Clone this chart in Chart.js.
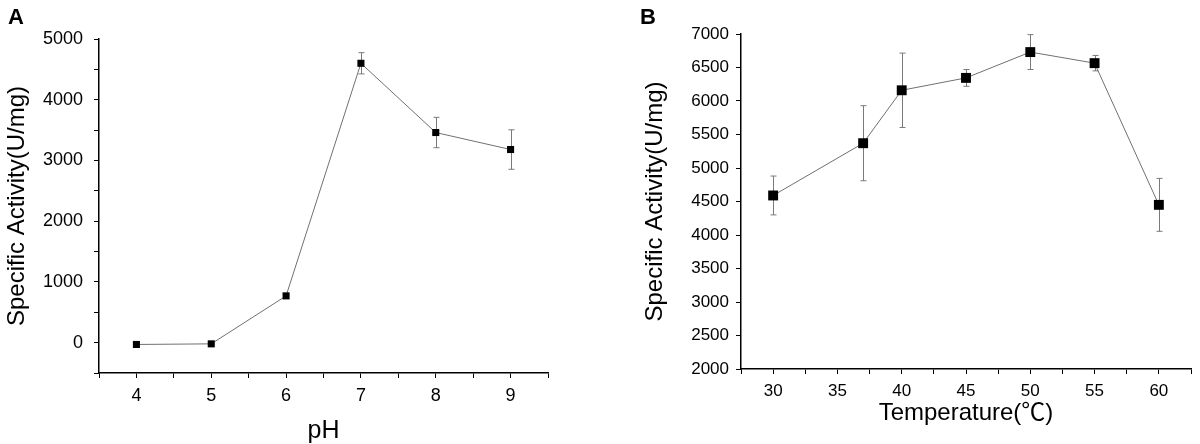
<!DOCTYPE html>
<html>
<head>
<meta charset="utf-8">
<script src="https://cdn.jsdelivr.net/npm/chart.js@4.4.0/dist/chart.umd.min.js"></script>
<style>
  body { margin: 0; background: #fff; width: 1200px; height: 444px; position: relative; overflow: hidden; }
  .panel { position: absolute; top: 0; width: 600px; height: 444px; }
  .tag { position: absolute; font: bold 22px "Liberation Sans", Arial, sans-serif; color: #000; line-height: 22px; }
</style>
</head>
<body>
<div class="panel" style="left:0"><canvas id="chartA" width="600" height="444"></canvas></div>
<div class="panel" style="left:600px"><canvas id="chartB" width="600" height="444"></canvas></div>
<div class="tag" style="left:8px;top:6px">A</div>
<div class="tag" style="left:640px;top:6px">B</div>
<script>
// Panel A: pH
const phValues = [4, 5, 6, 7, 8, 9];
const phActivity = [-30, -20, 770, 4600, 3460, 3180];
const phError = [0, 0, 0, 175, 250, 325];
const phTickLabels = [4, 5, 6, 7, 8, 9];
const activityTicksA = [0, 1000, 2000, 3000, 4000, 5000];

// Panel B: temperature
const tempValues = [30, 37, 40, 45, 50, 55, 60];
const tempActivity = [4590, 5370, 6160, 6345, 6730, 6565, 4450];
const tempError = [290, 560, 555, 125, 260, 115, 395];
const tempTickLabels = [30, 35, 40, 45, 50, 55, 60];
const activityTicksB = [2000, 2500, 3000, 3500, 4000, 4500, 5000, 5500, 6000, 6500, 7000];

const FONT = '"Liberation Sans", Arial, "Noto Sans CJK SC", sans-serif';

// error bars drawn under the markers, through the chart scales
const errorBars = {
    id: "errorBars",
    beforeDatasetsDraw(chart, args, opts) {
        const { ctx, scales: { x, y } } = chart;
        const points = chart.data.datasets[0].data;
        ctx.save();
        ctx.strokeStyle = "#7a7a7a";
        ctx.lineWidth = 1;
        points.forEach((p, i) => {
            const e = opts.errors[i];
            if (!e) return;
            const px = Math.round(x.getPixelForValue(p.x)) + 0.5;
            const top = y.getPixelForValue(p.y + e);
            const bot = y.getPixelForValue(p.y - e);
            ctx.beginPath();
            ctx.moveTo(px, top); ctx.lineTo(px, bot);
            ctx.moveTo(px - opts.cap, top); ctx.lineTo(px + opts.cap, top);
            ctx.moveTo(px - opts.cap, bot); ctx.lineTo(px + opts.cap, bot);
            ctx.stroke();
        });
        ctx.restore();
    }
};

function axis(min, max, step, shown, pad, size, fit) {
    return {
        type: "linear",
        min: min,
        max: max,
        ticks: {
            stepSize: step,
            padding: pad,
            color: "#000",
            font: { family: FONT, size: size },
            callback: (v) => shown.includes(v) ? String(v) : ""
        },
        grid: { display: true, drawOnChartArea: false, drawTicks: true, tickLength: 5, color: "#000", lineWidth: 1 },
        border: { display: true, color: "#000", width: 1.5 },
        afterFit: fit
    };
}

function makeChart(id, xs, ys, errs, opts) {
    const ctx = document.getElementById(id).getContext("2d");
    const xAxis = axis(opts.xMin, opts.xMax, opts.xStep, opts.xLabels, 7, opts.tickSize, (s) => { s.height = opts.xHeight; });
    xAxis.title = { display: true, text: opts.xTitle, color: "#000", font: { family: FONT, size: opts.xTitleSize, lineHeight: 1 }, padding: { top: 0, bottom: opts.xTitlePad } };
    const yAxis = axis(opts.yMin, opts.yMax, opts.yStep, opts.yLabels, opts.yPad, opts.tickSize, (s) => { s.width = opts.yWidth; });
    yAxis.title = { display: true, text: "Specific Activity(U/mg)", color: "#000", font: { family: FONT, size: 24 }, padding: { top: opts.yTitlePad, bottom: 0 } };

    new Chart(ctx, {
        type: "line",
        data: {
            datasets: [{
                data: xs.map((x, i) => ({ x: x, y: ys[i] })),
                borderColor: "#707070",
                borderWidth: 1,
                pointStyle: "rect",
                pointRadius: opts.pointRadius,
                pointBackgroundColor: "#000",
                pointBorderColor: "#000",
                pointBorderWidth: 0,
                tension: 0
            }]
        },
        options: {
            responsive: false,
            animation: false,
            devicePixelRatio: 1,
            layout: { padding: opts.padding },
            scales: { x: xAxis, y: yAxis },
            plugins: {
                legend: { display: false },
                tooltip: { enabled: false },
                errorBars: { errors: errs, cap: 3 }
            }
        },
        plugins: [errorBars]
    });
}

makeChart("chartA", phValues, phActivity, phError, {
    xMin: 3.5, xMax: 9.5, xStep: 0.5, xLabels: phTickLabels,
    yMin: -500, yMax: 5000, yStep: 500, yLabels: activityTicksA,
    tickSize: 18,
    xTitle: "pH", xTitleSize: 25, xTitlePad: 0, xHeight: 71,
    yWidth: 99, yPad: 11, yTitlePad: 3,
    pointRadius: 5,
    padding: { left: 0, right: 52, top: 39, bottom: 0 }
});

makeChart("chartB", tempValues, tempActivity, tempError, {
    xMin: 27.5, xMax: 62.5, xStep: 2.5, xLabels: tempTickLabels,
    yMin: 2000, yMax: 7000, yStep: 250, yLabels: activityTicksB,
    tickSize: 17,
    xTitle: "Temperature(\u2103)", xTitleSize: 24, xTitlePad: 19, xHeight: 75,
    yWidth: 141, yPad: 7, yTitlePad: 41,
    pointRadius: 7,
    padding: { left: 0, right: 9, top: 34, bottom: 0 }
});
</script>
</body>
</html>
